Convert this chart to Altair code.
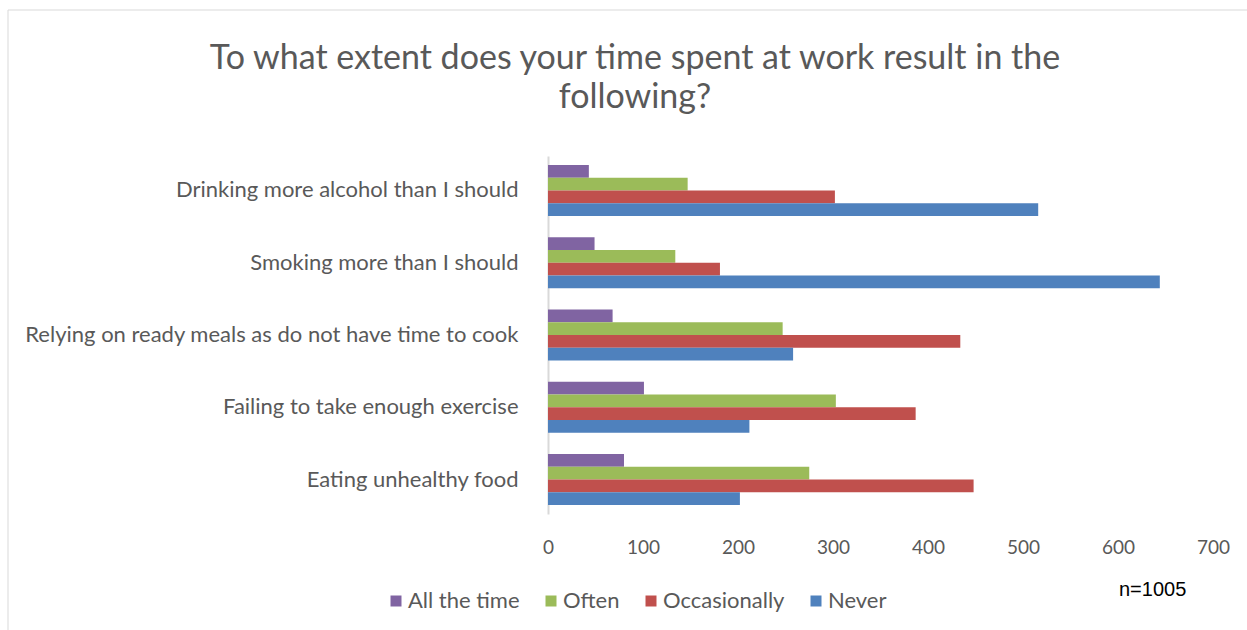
import altair as alt
import pandas as pd

categories = [
    "Drinking more alcohol than I should",
    "Smoking more than I should",
    "Relying on ready meals as do not have time to cook",
    "Failing to take enough exercise",
    "Eating unhealthy food",
]
series = ["All the time", "Often", "Occasionally", "Never"]
colors = ["#8064A2", "#9BBB59", "#C0504D", "#4F81BD"]

all_the_time = [43, 49, 68, 101, 80]
often = [147, 134, 247, 303, 275]
occasionally = [302, 181, 434, 387, 448]
never = [516, 644, 258, 212, 202]

x_ticks = [0, 100, 200, 300, 400, 500, 600, 700]
title_lines = ["To what extent does your time spent at work result in the", "following?"]
note = "n=1005"

rows = []
for s, vals in zip(series, [all_the_time, often, occasionally, never]):
    for c, v in zip(categories, vals):
        rows.append({"item": c, "response": s, "count": v})
df = pd.DataFrame(rows)

FONT = "Lato"
GREY = "#595959"

bars = alt.Chart(df).mark_bar().encode(
    y=alt.Y(
        "item:N",
        sort=categories,
        scale=alt.Scale(paddingInner=0.295, paddingOuter=0.125),
        axis=alt.Axis(
            title=None, ticks=False, labelPadding=30, labelFontSize=22,
            labelFont=FONT, labelColor=GREY, domainColor="#D9D9D9",
            domainWidth=2, grid=False, labelLimit=700,
        ),
    ),
    yOffset=alt.YOffset("response:N", sort=series),
    x=alt.X(
        "count:Q",
        scale=alt.Scale(domain=[0, 700], nice=False),
        axis=alt.Axis(
            title=None, values=x_ticks, ticks=False, domain=False, grid=False,
            labelFlush=False, labelPadding=24, labelFontSize=19,
            labelFont=FONT, labelColor=GREY,
        ),
    ),
    color=alt.Color(
        "response:N",
        sort=series,
        scale=alt.Scale(domain=series, range=colors),
        legend=alt.Legend(
            title=None, orient="none", legendX=-163, legendY=434,
            direction="horizontal", symbolType="square", symbolSize=121,
            symbolStrokeWidth=0, labelFontSize=22, labelFont=FONT,
            labelColor=GREY, labelOffset=1, columnPadding=20,
        ),
    ),
)

title_df = pd.DataFrame({"t": title_lines})
title_l1 = alt.Chart(title_df.iloc[[0]]).mark_text(
    font=FONT, fontSize=34, color=GREY, align="center", baseline="middle"
).encode(x=alt.value(87), y=alt.value(-97), text="t:N")
title_l2 = alt.Chart(title_df.iloc[[1]]).mark_text(
    font=FONT, fontSize=34, color=GREY, align="center", baseline="middle"
).encode(x=alt.value(87), y=alt.value(-58), text="t:N")

note_df = pd.DataFrame({"t": [note]})
note_text = alt.Chart(note_df).mark_text(
    font="Liberation Sans", fontSize=20, color="#000000", align="left", baseline="middle"
).encode(x=alt.value(571), y=alt.value(434), text="t:N")

border_df = pd.DataFrame({"a": [0]})
border = alt.Chart(border_df).mark_rect(
    fill="transparent", stroke="#D9D9D9", strokeWidth=1
).encode(
    x=alt.value(-540), x2=alt.value(720), y=alt.value(-146), y2=alt.value(490)
)

chart = alt.layer(border, bars, title_l1, title_l2, note_text).properties(
    width=665,
    height=358,
    background="white",
    padding={"left": 548, "top": 156, "right": 34, "bottom": 116},
    autosize=alt.AutoSizeParams(type="none"),
).configure_view(strokeWidth=0, stroke="transparent")

chart.save("out.html", embed_options={"renderer": "svg", "actions": False})
